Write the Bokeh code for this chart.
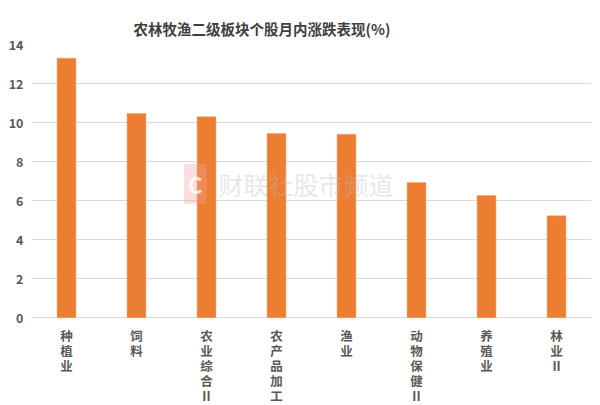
from bokeh.plotting import figure
from bokeh.models import ColumnDataSource, Label, FactorRange
from bokeh.core.properties import value
from bokeh.embed import file_html
from bokeh.resources import INLINE

title = "农林牧渔二级板块个股月内涨跌表现(%)"
categories = ["种植业", "饲料", "农业综合II", "农产品加工", "渔业", "动物保健II", "养殖业", "林业II"]
values = [13.3, 10.47, 10.3, 9.44, 9.4, 6.93, 6.26, 5.22]
y_ticks = [0, 2, 4, 6, 8, 10, 12, 14]

FONT = "Noto Sans CJK SC"
TXT = "#595959"

def vertical(label):
    parts = []
    i = 0
    while i < len(label):
        if label[i:i+2] == "II":
            parts.append("II")
            i += 2
        else:
            parts.append(label[i])
            i += 1
    return "\n".join(parts)

src = ColumnDataSource(dict(cat=categories, val=values,
                            lab=[vertical(c) for c in categories],
                            ly=[-0.42] * len(categories)))

p = figure(width=600, height=405, x_range=FactorRange(*categories, range_padding=0), y_range=(-4.5, 14),
           output_backend="svg", toolbar_location=None, min_border=0,
           min_border_left=31, min_border_right=9, min_border_top=44, min_border_bottom=0)
p.vbar(x="cat", top="val", width=0.27, source=src, color="#ED7D31", line_color="#F4A46E", line_width=0.5)
p.text(x="cat", y="ly", text="lab", source=src, text_font=value(FONT), text_font_size="12.5px",
       text_font_style="bold", text_color=TXT, text_align="center", text_baseline="top",
       text_line_height=0.79)

p.title.text = title
p.title.align = "left"
p.title.offset = 102
p.title.vertical_align = "middle"
p.title.text_font = FONT
p.title.text_font_size = "14.5px"
p.title.text_color = "#404040"
p.title.text_font_style = "bold"

p.outline_line_color = None
p.xgrid.grid_line_color = None
p.ygrid.grid_line_color = "#D9D9D9"
p.ygrid.grid_line_width = 1
p.xaxis.visible = False

p.yaxis.ticker = y_ticks
p.yaxis.axis_line_color = None
p.yaxis.major_tick_line_color = None
p.yaxis.minor_tick_line_color = None
p.yaxis.major_tick_out = 0
p.yaxis.major_tick_in = 0
p.yaxis.minor_tick_out = 0
p.yaxis.major_label_text_font = FONT
p.yaxis.major_label_text_font_size = "12.5px"
p.yaxis.major_label_text_font_style = "bold"
p.yaxis.major_label_text_color = TXT
p.yaxis.major_label_standoff = 8

wm = Label(x=2.67, y=6.87, text="财联社股市频道", text_font=FONT, text_font_size="25px",
           text_color="#BBBBBB", text_alpha=0.35, text_baseline="middle", text_align="left")
p.add_layout(wm)
logo = Label(x=2.18, y=6.87, text="C", text_font=FONT, text_font_size="22px", text_font_style="bold",
             text_color="#FFFFFF", text_alpha=0.8, background_fill_color="#F4A0A0", background_fill_alpha=0.35,
             text_baseline="middle", text_align="left", padding=4)
p.add_layout(logo)

open("out.html", "w").write(file_html(p, INLINE))
